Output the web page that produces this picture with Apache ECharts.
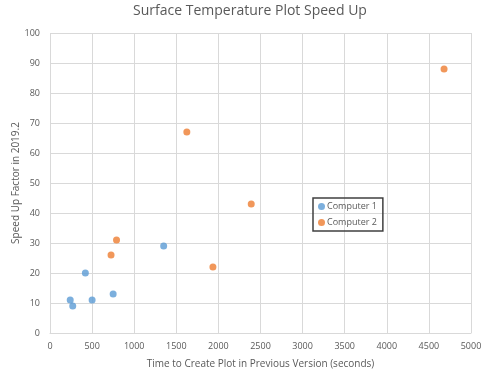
<!DOCTYPE html>
<html><head><meta charset="utf-8">
<script src="https://cdn.jsdelivr.net/npm/echarts@6/dist/echarts.min.js"></script>
<style>html,body{margin:0;padding:0;background:#fff}#c{width:500px;height:373px}</style>
</head><body><div id="c"></div>
<script>
const titleText = 'Surface Temperature Plot Speed Up';
const xAxisName = 'Time to Create Plot in Previous Version (seconds)';
const yAxisName = 'Speed Up Factor in 2019.2';
const computer1 = [[240, 11], [270, 9], [420, 20], [500, 11], [750, 13], [1350, 29]];
const computer2 = [[725, 26], [790, 31], [1625, 67], [1935, 22], [2390, 43], [4680, 88]];
const seriesNames = ['Computer 1', 'Computer 2'];

const font = '"Open Sans", sans-serif';
const chart = echarts.init(document.getElementById('c'));
chart.setOption({
  animation: false,
  backgroundColor: '#fff',
  title: { text: titleText, left: 'center', top: -1,
    textStyle: { fontFamily: font, fontSize: 14, fontWeight: 'normal', color: '#595959' } },
  grid: { left: 50, right: 29, top: 33, bottom: 40, containLabel: false, outerBoundsMode: 'none' },
  xAxis: { type: 'value', min: 0, max: 5000, interval: 500,
    name: xAxisName, nameLocation: 'middle', nameGap: 26, nameMoveOverlap: false,
    nameTextStyle: { fontFamily: font, fontSize: 10, color: '#595959' },
    axisLine: { show: true, lineStyle: { color: '#d9d9d9' } }, axisTick: { show: false },
    axisLabel: { fontFamily: font, fontSize: 9, color: '#595959', margin: 9,
      formatter: v => String(v) },
    splitLine: { show: true, lineStyle: { color: '#d9d9d9' } } },
  yAxis: { type: 'value', min: 0, max: 100, interval: 10,
    name: yAxisName, nameLocation: 'middle', nameGap: 29, nameRotate: 90, nameMoveOverlap: false,
    nameTextStyle: { fontFamily: font, fontSize: 10, color: '#595959' },
    axisLine: { show: false }, axisTick: { show: false },
    axisLabel: { fontFamily: font, fontSize: 9, color: '#595959', margin: 10 },
    splitLine: { show: true, lineStyle: { color: '#d9d9d9' } } },
  legend: { orient: 'vertical', left: 313, top: 198, width: 69,
    borderColor: '#404040', borderWidth: 1.5, padding: [4, 6, 4, 5], itemGap: 7,
    icon: 'circle', itemWidth: 7, itemHeight: 7,
    textStyle: { fontFamily: font, fontSize: 9, color: '#595959', padding: [0, 0, 0, -3] },
    data: seriesNames },
  series: [
    { name: seriesNames[0], type: 'scatter', data: computer1, symbolSize: 7,
      itemStyle: { color: '#5B9BD5' } },
    { name: seriesNames[1], type: 'scatter', data: computer2, symbolSize: 7,
      itemStyle: { color: '#ED7D31' } }
  ]
});
</script></body></html>
